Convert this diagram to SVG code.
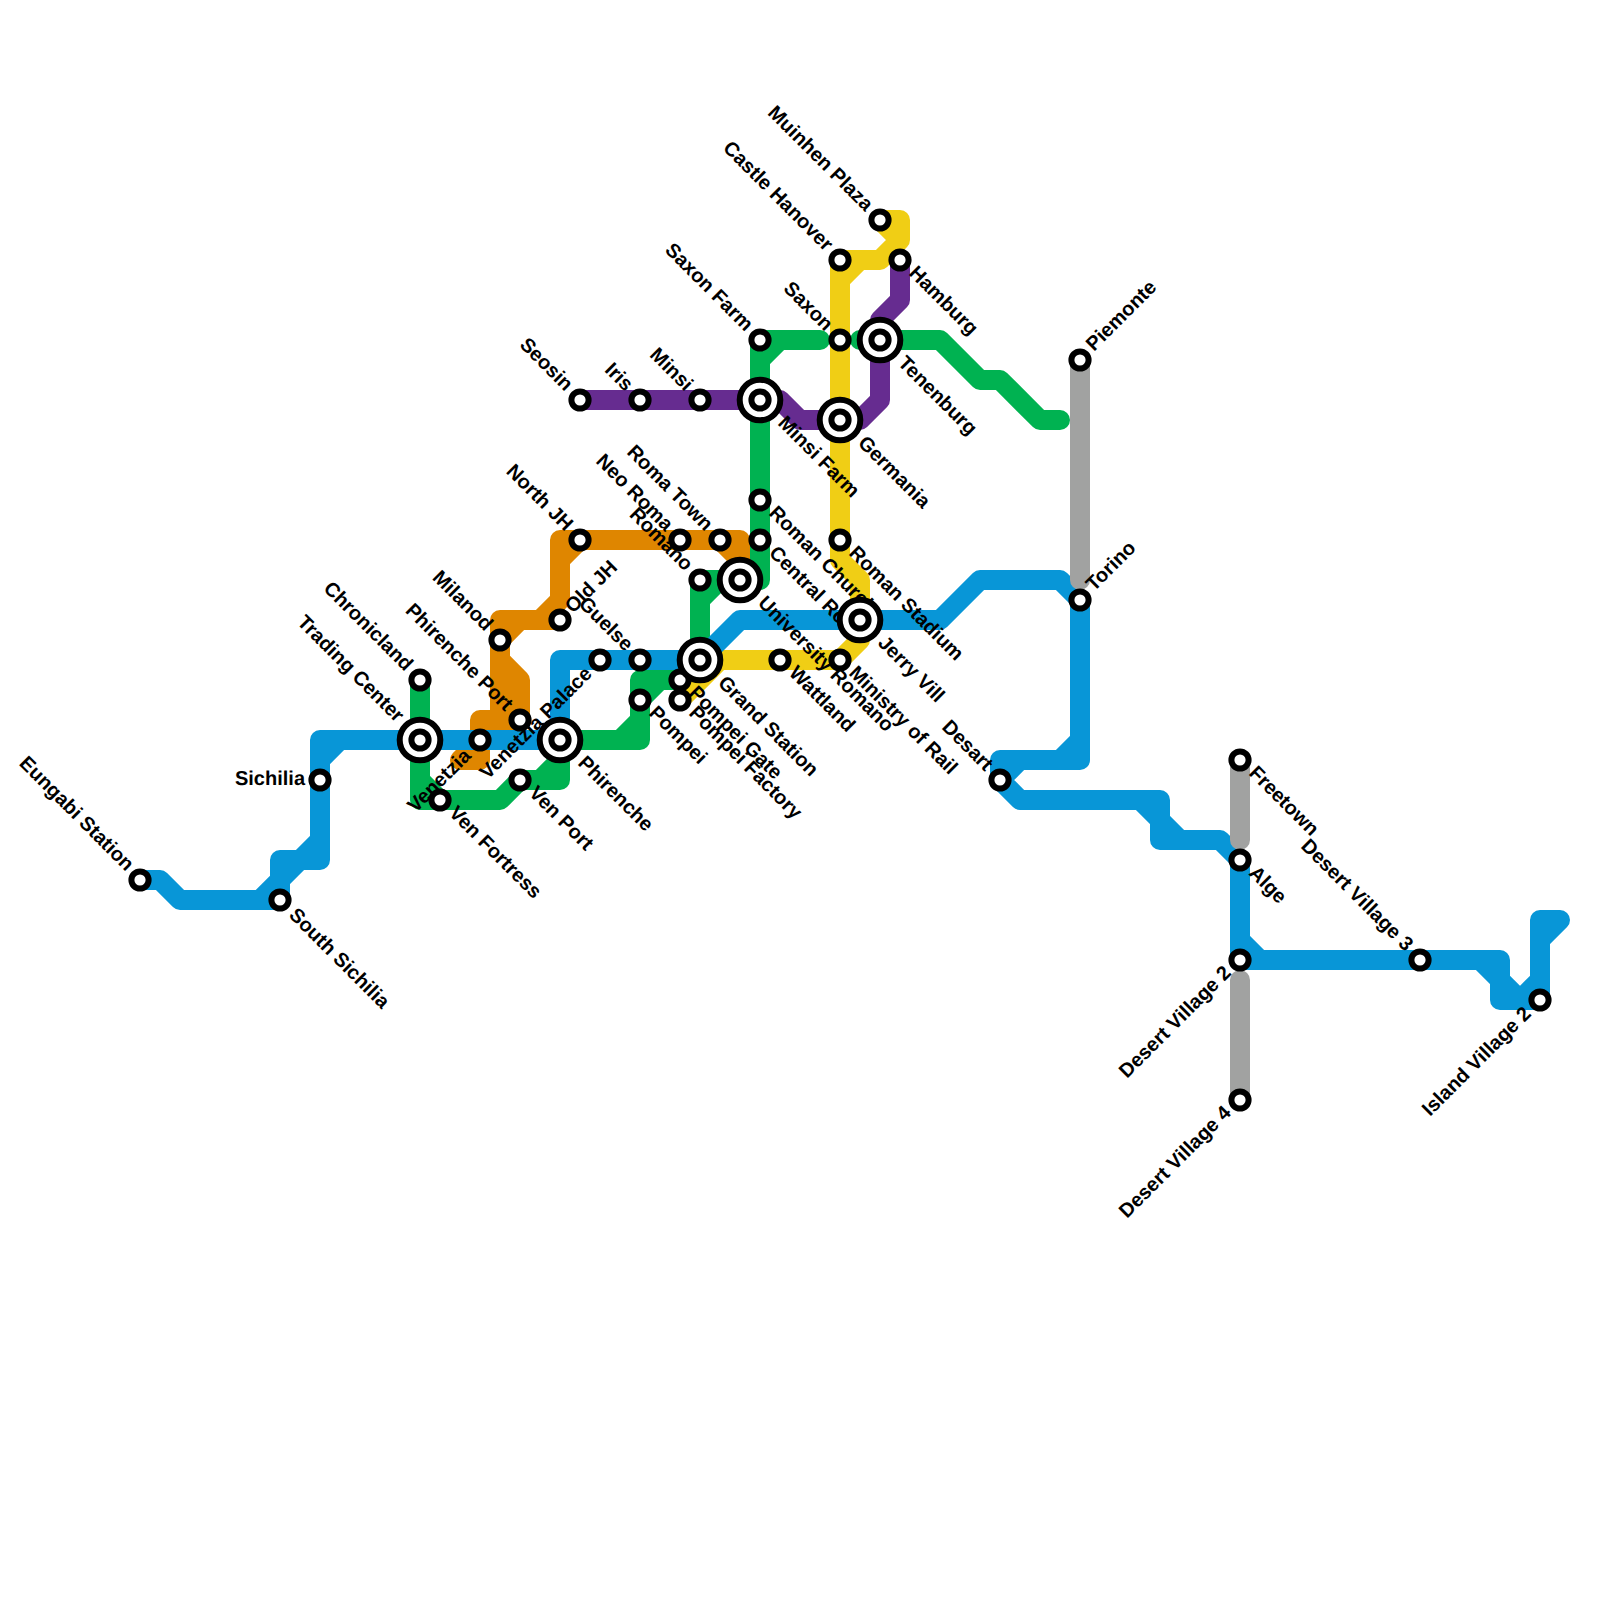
<svg xmlns="http://www.w3.org/2000/svg" width="1600" height="1600" viewBox="0 0 1600 1600">
<style>
.l{fill:none;stroke-width:20;stroke-linecap:round;stroke-linejoin:round}
.or{stroke:#df8600}.gr{stroke:#00b251}.ye{stroke:#f0ce15}.pu{stroke:#662c90}.bl{stroke:#0896d7}.gy{stroke:#a1a2a1}
text{font-family:"Liberation Sans",Arial,sans-serif;font-weight:bold;font-size:20px;fill:#000;text-rendering:geometricPrecision}
.ring{fill:#fff;stroke:#000;stroke-width:6}
.big{fill:#fff;stroke:#000;stroke-width:6}
.e{text-anchor:end}
</style>
<rect width="1600" height="1600" fill="#fff"/>
<g id="connectors">
<path class="l or" d="M560 620H500V720H520M500 660L520 680V720H480M500 640L520 620H540L560 600V540H740V580M560 560L580 540M720 540L740 560M480 720V760H460L480 740"/>
<path class="l gr" d="M420 680V800H500L520 780H560V740H640V680H680L700 660V580H740M420 780L440 800M540 780L560 760M620 740L640 720M640 700L660 680M700 600L720 580M740 580H760V340H820M760 360L780 340M860 340H940L980 380H1000L1040 420H1060"/>
<path class="l ye" d="M880 220H900V240L880 260H840V560L860 580V640L840 660H720L680 700M880 220L900 240M840 280L860 260"/>
<path class="l pu" d="M580 400H780L800 420H860L880 400V320L900 300V260"/>
<path class="l bl" d="M140 880H160L180 900H260L300 860H320V740H560V660H700L740 620H940L980 580H1060L1080 600V760H1000V780L1020 800H1160V840H1220L1240 860V960H1500V1000H1540V920H1560L1540 940M280 900V860H300L320 840M320 760L340 740M1000 780L1020 760M1060 760L1080 740M1140 800L1180 840M1240 940L1260 960M1480 960L1520 1000L1540 980M180 900H280"/>
<path class="l gy" d="M1080 360V580M1240 760V840M1240 980V1100"/>
</g>
<g id="labels">
<text class="e" transform="translate(126 872) rotate(45)">Eungabi Station</text>
<text class="e" x="305" y="785">Sichilia</text>
<text transform="translate(288 916) rotate(45)">South Sichilia</text>
<text class="e" transform="translate(396 723) rotate(45)">Trading Center</text>
<text class="e" transform="translate(405 672) rotate(45)">Chronicland</text>
<text class="e" transform="translate(472 757) rotate(-45)">Venetzia</text>
<text transform="translate(448 814) rotate(45)">Ven Fortress</text>
<text class="e" transform="translate(593 675) rotate(-45)">Venetzia Palace</text>
<text class="e" transform="translate(625 652) rotate(45)">Guelse</text>
<text class="e" transform="translate(505 712) rotate(45)">Phirenche Port</text>
<text class="e" transform="translate(485 632) rotate(45)">Milanod</text>
<text transform="translate(573 614) rotate(-45)">Old JH</text>
<text class="e" transform="translate(565 532) rotate(45)">North JH</text>
<text transform="translate(528 794) rotate(45)">Ven Port</text>
<text transform="translate(577 764) rotate(45)">Phirenche</text>
<text transform="translate(648 714) rotate(45)">Pompei</text>
<text transform="translate(688 694) rotate(45)">Pompei Gate</text>
<text transform="translate(688 714) rotate(45)">Pompei Factory</text>
<text transform="translate(717 684) rotate(45)">Grand Station</text>
<text class="e" transform="translate(565 392) rotate(45)">Seosin</text>
<text class="e" transform="translate(625 392) rotate(45)">Iris</text>
<text class="e" transform="translate(685 392) rotate(45)">Minsi</text>
<text transform="translate(777 424) rotate(45)">Minsi Farm</text>
<text class="e" transform="translate(745 332) rotate(45)">Saxon Farm</text>
<text class="e" transform="translate(825 252) rotate(45)">Castle Hanover</text>
<text class="e" transform="translate(825 332) rotate(45)">Saxon</text>
<text transform="translate(857 444) rotate(45)">Germania</text>
<text class="e" transform="translate(865 212) rotate(45)">Muinhen Plaza</text>
<text transform="translate(908 274) rotate(45)">Hamburg</text>
<text transform="translate(897 364) rotate(45)">Tenenburg</text>
<text transform="translate(768 514) rotate(45)">Roman Church</text>
<text transform="translate(768 554) rotate(45)">Central Road</text>
<text transform="translate(848 554) rotate(45)">Roman Stadium</text>
<text transform="translate(757 604) rotate(45)">University Romano</text>
<text transform="translate(848 674) rotate(45)">Ministry of Rail</text>
<text transform="translate(788 674) rotate(45)">Wattland</text>
<text transform="translate(877 644) rotate(45)">Jerry Vill</text>
<text class="e" transform="translate(705 532) rotate(45)">Roma Town</text>
<text class="e" transform="translate(665 532) rotate(45)">Neo Roma</text>
<text class="e" transform="translate(685 572) rotate(45)">Romano</text>
<text class="e" transform="translate(985 772) rotate(45)">Desart</text>
<text transform="translate(1094 352) rotate(-45)">Piemonte</text>
<text transform="translate(1094 592) rotate(-45)">Torino</text>
<text transform="translate(1248 774) rotate(45)">Freetown</text>
<text transform="translate(1248 874) rotate(45)">Alge</text>
<text class="e" transform="translate(1232 974) rotate(-45)">Desert Village 2</text>
<text class="e" transform="translate(1405 952) rotate(45)">Desert Village 3</text>
<text class="e" transform="translate(1232 1114) rotate(-45)">Desert Village 4</text>
<text class="e" transform="translate(1532 1015) rotate(-45)">Island Village 2</text>
</g>
<defs>
<g id="s"><circle r="8.6" class="ring"/></g>
<g id="i"><circle r="20.3" class="big"/><circle r="8.6" class="ring"/></g>
</defs>
<g id="stations">
<use id="eungabi-station" href="#s" x="140" y="880"/>
<use id="sichilia" href="#s" x="320" y="780"/>
<use id="south-sichilia" href="#s" x="280" y="900"/>
<use id="trading-center" href="#i" x="420" y="740"/>
<use id="chronicland" href="#s" x="420" y="680"/>
<use id="venetzia" href="#s" x="480" y="740"/>
<use id="ven-fortress" href="#s" x="440" y="800"/>
<use id="venetzia-palace" href="#s" x="600" y="660"/>
<use id="guelse" href="#s" x="640" y="660"/>
<use id="phirenche-port" href="#s" x="520" y="720"/>
<use id="milanod" href="#s" x="500" y="640"/>
<use id="old-jh" href="#s" x="560" y="620"/>
<use id="north-jh" href="#s" x="580" y="540"/>
<use id="ven-port" href="#s" x="520" y="780"/>
<use id="phirenche" href="#i" x="560" y="740"/>
<use id="pompei" href="#s" x="640" y="700"/>
<use id="pompei-gate" href="#s" x="680" y="680"/>
<use id="pompei-factory" href="#s" x="680" y="700"/>
<use id="grand-station" href="#i" x="700" y="660"/>
<use id="seosin" href="#s" x="580" y="400"/>
<use id="iris" href="#s" x="640" y="400"/>
<use id="minsi" href="#s" x="700" y="400"/>
<use id="minsi-farm" href="#i" x="760" y="400"/>
<use id="saxon-farm" href="#s" x="760" y="340"/>
<use id="castle-hanover" href="#s" x="840" y="260"/>
<use id="saxon" href="#s" x="840" y="340"/>
<use id="germania" href="#i" x="840" y="420"/>
<use id="muinhen-plaza" href="#s" x="880" y="220"/>
<use id="hamburg" href="#s" x="900" y="260"/>
<use id="tenenburg" href="#i" x="880" y="340"/>
<use id="roman-church" href="#s" x="760" y="500"/>
<use id="central-road" href="#s" x="760" y="540"/>
<use id="roman-stadium" href="#s" x="840" y="540"/>
<use id="university-romano" href="#i" x="740" y="580"/>
<use id="ministry-of-rail" href="#s" x="840" y="660"/>
<use id="wattland" href="#s" x="780" y="660"/>
<use id="jerry-vill" href="#i" x="860" y="620"/>
<use id="roma-town" href="#s" x="720" y="540"/>
<use id="neo-roma" href="#s" x="680" y="540"/>
<use id="romano" href="#s" x="700" y="580"/>
<use id="desart" href="#s" x="1000" y="780"/>
<use id="piemonte" href="#s" x="1080" y="360"/>
<use id="torino" href="#s" x="1080" y="600"/>
<use id="freetown" href="#s" x="1240" y="760"/>
<use id="alge" href="#s" x="1240" y="860"/>
<use id="desert-village-2" href="#s" x="1240" y="960"/>
<use id="desert-village-3" href="#s" x="1420" y="960"/>
<use id="desert-village-4" href="#s" x="1240" y="1100"/>
<use id="island-village-2" href="#s" x="1540" y="1000"/>
</g>
</svg>
